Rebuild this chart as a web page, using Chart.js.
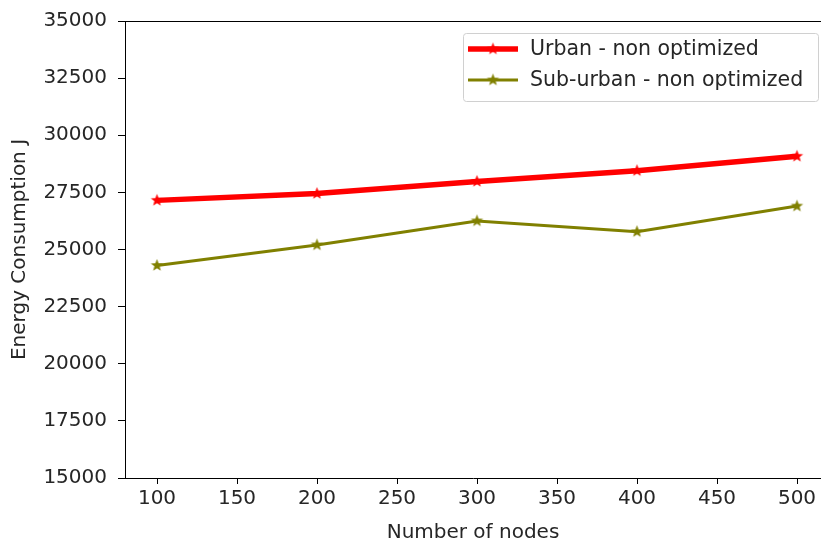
<!DOCTYPE html>
<html>
<head>
<meta charset="utf-8">
<script src="https://cdn.jsdelivr.net/npm/chart.js@4/dist/chart.umd.min.js"></script>
<style>
  html, body { margin: 0; padding: 0; background: #fff; overflow: hidden; }
  #wrap { width: 821px; height: 539px; }
</style>
</head>
<body>
<div id="wrap"><canvas id="energyChart" width="821" height="539"></canvas></div>
<script>
var nodes = [100, 200, 300, 400, 500];
var urban = [27150, 27450, 27980, 28450, 29080];
var suburban = [24300, 25200, 26250, 25780, 26900];
var xTicks = [100, 150, 200, 250, 300, 350, 400, 450, 500];
var seriesNames = ['Urban - non optimized', 'Sub-urban - non optimized'];

var FONT = 'DejaVu Sans';
var TEXT = '#262626';
var FS = 20;

function makeStar(color, r) {
  var c = document.createElement('canvas');
  c.width = c.height = Math.ceil(r * 2 + 2);
  var g = c.getContext('2d');
  var cx = c.width / 2, cy = c.height / 2;
  g.beginPath();
  for (var i = 0; i < 10; i++) {
    var rad = i % 2 === 0 ? r : r * 0.42;
    var a = -Math.PI / 2 + i * Math.PI / 5;
    g.lineTo(cx + rad * Math.cos(a), cy + rad * Math.sin(a));
  }
  g.closePath();
  g.fillStyle = color;
  g.fill();
  return c;
}

var redStar = makeStar('#ff0000', 6.5);
var oliveStar = makeStar('#808000', 6.5);

function toPoints(ys) {
  return nodes.map(function (n, i) { return { x: n, y: ys[i] }; });
}

function noPadding() { return { left: 0, top: 0, right: 0, bottom: 0 }; }

// top spine + matplotlib style legend
var frameAndLegend = {
  id: 'frameAndLegend',
  afterDraw: function (chart) {
    var g = chart.ctx, a = chart.chartArea;
    g.save();
    g.strokeStyle = '#000';
    g.lineWidth = 1;
    g.beginPath();
    g.moveTo(a.left, a.top + 0.5);
    g.lineTo(chart.width, a.top + 0.5);
    g.stroke();

    var bx = 463, by = 33, bw = 355, bh = 68;
    g.fillStyle = 'rgba(255,255,255,0.85)';
    g.strokeStyle = '#d0d0d0';
    g.beginPath();
    g.roundRect(bx + 0.5, by + 0.5, bw, bh, 3);
    g.fill();
    g.stroke();

    var items = [
      { color: '#ff0000', width: 5.5, star: redStar, y: 49 },
      { color: '#808000', width: 3, star: oliveStar, y: 80 }
    ];
    g.font = '20.5px "' + FONT + '"';
    g.textBaseline = 'middle';
    items.forEach(function (it, i) {
      g.strokeStyle = it.color;
      g.lineWidth = it.width;
      g.beginPath();
      g.moveTo(468, it.y);
      g.lineTo(518, it.y);
      g.stroke();
      g.drawImage(it.star, 493 - it.star.width / 2, it.y - it.star.height / 2);
      g.fillStyle = TEXT;
      g.fillText(seriesNames[i], 530, it.y + 1);
    });
    g.restore();
  }
};

new Chart(document.getElementById('energyChart'), {
  type: 'line',
  data: {
    datasets: [
      {
        label: seriesNames[0],
        data: toPoints(urban),
        borderColor: '#ff0000',
        borderWidth: 5.5,
        pointStyle: redStar,
        pointRadius: 6,
        tension: 0
      },
      {
        label: seriesNames[1],
        data: toPoints(suburban),
        borderColor: '#808000',
        borderWidth: 3,
        pointStyle: oliveStar,
        pointRadius: 6,
        tension: 0
      }
    ]
  },
  options: {
    responsive: false,
    animation: false,
    layout: { autoPadding: false, padding: { left: 0, top: 21, right: 0, bottom: 0 } },
    plugins: {
      legend: { display: false },
      tooltip: { enabled: false }
    },
    scales: {
      x: {
        type: 'linear',
        min: 80,
        max: 515,
        afterBuildTicks: function (s) { s.ticks = xTicks.map(function (v) { return { value: v }; }); },
        afterFit: function (s) { s.height = 61; s.paddingRight = 0; s.paddingLeft = 0; s.getPadding = noPadding; },
        grid: { drawOnChartArea: false, color: '#000', tickLength: 6, tickWidth: 1 },
        border: { display: true, color: '#000', width: 1 },
        ticks: {
          color: TEXT, font: { family: FONT, size: FS }, padding: 3,
          maxRotation: 0, autoSkip: false,
          callback: function (v) { return String(v); }
        },
        title: {
          display: true, text: 'Number of nodes', color: TEXT,
          font: { family: FONT, size: FS }, padding: { top: 0, bottom: -6 }
        }
      },
      y: {
        min: 15000,
        max: 35000,
        afterFit: function (s) { s.width = 125; s.paddingTop = 0; s.paddingBottom = 0; s.getPadding = noPadding; },
        grid: { drawOnChartArea: false, color: '#000', tickLength: 7, tickWidth: 1 },
        border: { display: true, color: '#000', width: 1 },
        ticks: {
          stepSize: 2500, color: TEXT, font: { family: FONT, size: FS }, padding: 11,
          callback: function (v) { return String(v); }
        },
        title: {
          display: true, text: 'Energy Consumption J', color: TEXT,
          font: { family: FONT, size: FS }, padding: { top: 8, bottom: 0 }
        }
      }
    }
  },
  plugins: [frameAndLegend]
});
</script>
</body>
</html>
